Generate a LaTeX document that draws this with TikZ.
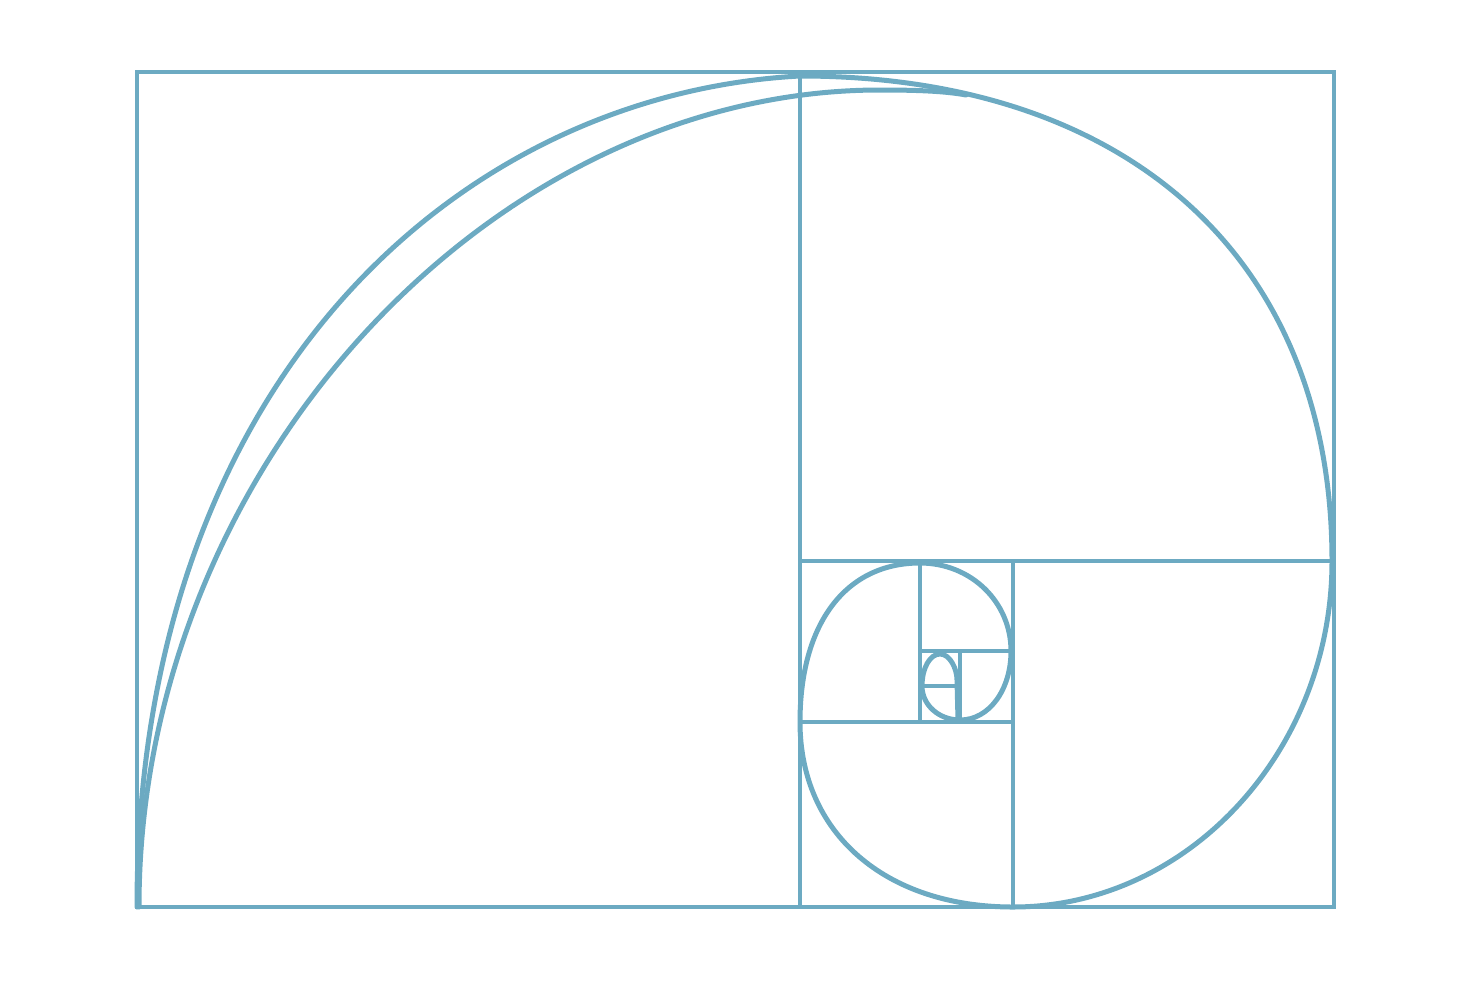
\documentclass[tikz,border=0pt]{standalone}
\usepackage{tikz}
\usetikzlibrary{calc}
\definecolor{spiralblue}{RGB}{108,170,194}

\begin{document}
\begin{tikzpicture}[x=0.5pt, y=-0.5pt,
    frame/.style={draw=spiralblue, line width=1.9pt},
    spiral/.style={draw=spiralblue, line width=2.5pt, line cap=round, line join=round}]
    \useasboundingbox (0,0) rectangle (1472,980);
    % golden rectangle and its squares
    \coordinate (topleft) at (137,72);
    \coordinate (botright) at (1334,907);
    \draw[frame] (topleft) rectangle (botright);
    \draw[frame]
    (800,72) -- (800,907)
    (800,561) -- (1334,561)
    (1013,561) -- (1013,907)
    (800,722) -- (1013,722)
    (920,561) -- (920,722)
    (920,651) -- (1013,651)
    (960,651) -- (960,722)
    (920,686) -- (960,686);
    % spiral
    \draw[spiral] (137,907)
    .. controls (137,380) and (460,94) .. (800,76)
    .. controls (1130,76) and (1332,260) .. (1332,561)
    .. controls (1332,751) and (1188,907) .. (1013,907)
    .. controls (885,907) and (800,833) .. (800,722)
    .. controls (800,623) and (846,563) .. (920,563)
    .. controls (971,563) and (1011,602) .. (1011,651)
    .. controls (1011,690) and (989,720) .. (960,720)
    .. controls (939,720) and (922,705) .. (922,686)
    .. controls (922,668) and (930,654) .. (940,654)
    .. controls (950,654) and (957,669) .. (957,680)
    -- (958,720);
    % second stroke of the big arc
    \draw[spiral] (139,907)
    .. controls (139,470) and (490,90) .. (880,90)
    .. controls (915,90) and (945,91) .. (966,95);
\end{tikzpicture}
\end{document}
